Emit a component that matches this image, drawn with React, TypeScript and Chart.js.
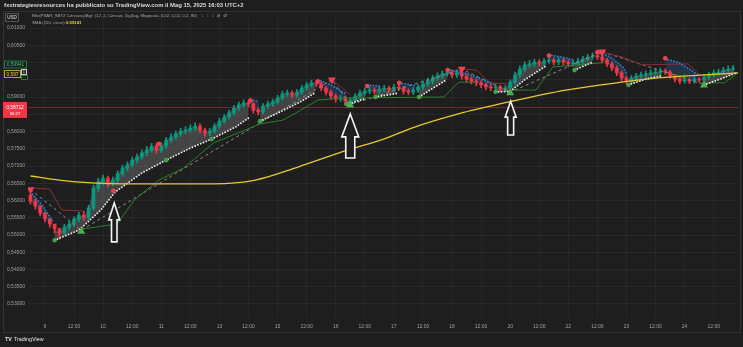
import React, { useEffect, useRef } from 'react';
import { Chart, registerables } from 'chart.js';
Chart.register(...registerables);

const BG = '#1e1e1e';
const GREEN = '#089981';
const RED = '#f23645';

// ---------- candles (one bar per slot; open = previous close) ----------
const firstOpen = 0.5616;
const closes = [
  0.5598,0.5584,0.5564,0.5547,0.5532,0.5518,0.5506,0.5523,0.5532,0.5546,
  0.5558,0.5552,0.5578,0.5636,0.5654,0.5665,0.5651,0.5659,0.5677,0.5694,
  0.5703,0.5717,0.5726,0.5738,0.5746,0.5758,0.5746,0.5758,0.5775,0.5784,
  0.5793,0.5801,0.5804,0.5810,0.5816,0.5804,0.5796,0.5801,0.5816,0.5830,
  0.5842,0.5854,0.5868,0.5877,0.5883,0.5880,0.5862,0.5857,0.5874,0.5880,
  0.5886,0.5897,0.5909,0.5912,0.5906,0.5914,0.5926,0.5935,0.5941,0.5938,
  0.5926,0.5914,0.5903,0.5894,0.5897,0.5888,0.5891,0.5903,0.5912,0.5917,
  0.5920,0.5917,0.5923,0.5926,0.5923,0.5929,0.5926,0.5917,0.5914,0.5920,
  0.5929,0.5938,0.5946,0.5955,0.5961,0.5967,0.5970,0.5964,0.5970,0.5961,
  0.5952,0.5946,0.5941,0.5935,0.5929,0.5926,0.5929,0.5923,0.5926,0.5943,
  0.5964,0.5981,0.5993,0.5996,0.6001,0.5999,0.6004,0.6007,0.6001,0.6007,
  0.6001,0.5996,0.5999,0.6004,0.6010,0.6016,0.6019,0.6016,0.6007,0.5996,
  0.5984,0.5970,0.5955,0.5946,0.5955,0.5961,0.5964,0.5967,0.5970,0.5972,
  0.5975,0.5972,0.5961,0.5952,0.5946,0.5949,0.5946,0.5952,0.5949,0.5958,
  0.5964,0.5970,0.5972,0.5978,0.5981,0.5984,
];
const highs = [
  0.5620,0.5605,0.5585,0.5565,0.5545,0.5528,0.5520,0.5531,0.5540,0.5553,
  0.5566,0.5569,0.5586,0.5645,0.5665,0.5674,0.5671,0.5668,0.5686,0.5703,
  0.5712,0.5726,0.5735,0.5747,0.5757,0.5766,0.5765,0.5767,0.5783,0.5793,
  0.5802,0.5810,0.5814,0.5819,0.5825,0.5822,0.5810,0.5809,0.5823,0.5838,
  0.5850,0.5862,0.5876,0.5885,0.5892,0.5890,0.5884,0.5868,0.5881,0.5888,
  0.5894,0.5905,0.5917,0.5920,0.5918,0.5922,0.5934,0.5943,0.5949,0.5947,
  0.5944,0.5931,0.5920,0.5909,0.5905,0.5903,0.5899,0.5910,0.5920,0.5926,
  0.5928,0.5927,0.5930,0.5934,0.5932,0.5937,0.5937,0.5931,0.5924,0.5927,
  0.5936,0.5946,0.5955,0.5963,0.5970,0.5976,0.5979,0.5977,0.5979,0.5976,
  0.5967,0.5958,0.5953,0.5947,0.5941,0.5936,0.5936,0.5934,0.5933,0.5950,
  0.5972,0.5990,0.6002,0.6006,0.6010,0.6008,0.6012,0.6016,0.6013,0.6014,
  0.6012,0.6007,0.6006,0.6012,0.6018,0.6024,0.6028,0.6025,0.6022,0.6012,
  0.6001,0.5990,0.5975,0.5961,0.5962,0.5968,0.5972,0.5976,0.5979,0.5981,
  0.5984,0.5982,0.5977,0.5966,0.5958,0.5956,0.5955,0.5959,0.5957,0.5965,
  0.5972,0.5978,0.5981,0.5986,0.5990,0.5992,
];
const lows = [
  0.5590,0.5575,0.5555,0.5538,0.5522,0.5505,0.5488,0.5500,0.5515,0.5525,
  0.5538,0.5542,0.5545,0.5572,0.5626,0.5645,0.5640,0.5643,0.5652,0.5670,
  0.5686,0.5697,0.5709,0.5720,0.5730,0.5740,0.5737,0.5739,0.5750,0.5768,
  0.5777,0.5786,0.5794,0.5797,0.5802,0.5796,0.5786,0.5788,0.5795,0.5810,
  0.5824,0.5836,0.5848,0.5861,0.5870,0.5872,0.5853,0.5848,0.5851,0.5867,
  0.5873,0.5880,0.5891,0.5902,0.5899,0.5899,0.5908,0.5919,0.5929,0.5930,
  0.5918,0.5906,0.5894,0.5885,0.5887,0.5880,0.5881,0.5885,0.5897,0.5905,
  0.5910,0.5909,0.5910,0.5916,0.5915,0.5916,0.5918,0.5908,0.5906,0.5907,
  0.5913,0.5922,0.5931,0.5939,0.5948,0.5954,0.5960,0.5956,0.5957,0.5952,
  0.5944,0.5938,0.5933,0.5927,0.5921,0.5918,0.5919,0.5915,0.5916,0.5920,
  0.5937,0.5957,0.5974,0.5986,0.5989,0.5991,0.5992,0.5997,0.5993,0.5994,
  0.5994,0.5988,0.5989,0.5993,0.5998,0.6004,0.6010,0.6008,0.5999,0.5988,
  0.5976,0.5962,0.5946,0.5937,0.5940,0.5949,0.5954,0.5957,0.5960,0.5963,
  0.5966,0.5965,0.5954,0.5944,0.5938,0.5940,0.5939,0.5940,0.5942,0.5943,
  0.5952,0.5958,0.5963,0.5966,0.5972,0.5975,
];

// ---------- axes ----------
const xTickIdx = [3,9,15,21,27,33,39,45,51,57,63,69,75,81,87,93,99,105,111,117,123,129,135,141];
const xTickLabels = ['9','12:00','10','12:00','11','12:00','13','12:00','15','12:00','16','12:00','17','12:00','18','12:00','20','12:00','22','12:00','23','12:00','24','12:00'];
const yTicks = [0.53,0.535,0.54,0.545,0.55,0.555,0.56,0.565,0.57,0.575,0.58,0.585,0.59,0.595,0.6,0.605,0.61];
const yTicksHidden = [0.585,0.595,0.6];

// ---------- indicators: [barIndex, price] ----------
const sma = [[0,0.5671],[6,0.5659],[12.6,0.5651],[24.5,0.5648],[37.8,0.5648],[46.4,0.5659],[55.2,0.5697],[65.4,0.5746],[72.9,0.5778],[78.7,0.5810],[88.3,0.5851],[98.8,0.5886],[110.5,0.5920],[122.1,0.5943],[128.9,0.5955],[139.1,0.5964],[146,0.5970]];
const psarUp = [
  [[5,0.5485],[10,0.5514],[14.5,0.5572],[17.5,0.5625],[19.5,0.5645],[23,0.5680],[28,0.5717],[33,0.5752],[37.4,0.5778],[42.3,0.5813],[45,0.5839]],
  [[47.4,0.5830],[52,0.5860],[56,0.5888],[58.7,0.5912]],
  [[65.2,0.5878],[69,0.5895]],
  [[71.2,0.5900],[75.5,0.5910]],
  [[80.2,0.5900],[83,0.5925],[85.9,0.5950]],
  [[96,0.5915],[99,0.5916],[102,0.5950],[106.4,0.5990]],
  [[112.3,0.5978],[116,0.6001]],
  [[123.4,0.5935],[127,0.5952],[130.3,0.5962]],
  [[139,0.5935],[142,0.5950],[145.6,0.5970]],
];
const psarDown = [
  [[0,0.5625],[2.5,0.5585],[4.6,0.5540]],
  [[45.4,0.5893],[47.2,0.5887]],
  [[59.3,0.5950],[62,0.5935],[65.3,0.5908]],
  [[69.5,0.5934],[72,0.5932]],
  [[76.1,0.5941],[79.5,0.5933]],
  [[86.1,0.5980],[90,0.5968],[93,0.5952],[95.5,0.5938]],
  [[107,0.6022],[110,0.6015],[112,0.6008]],
  [[117,0.6030],[119.7,0.6016],[122.2,0.5987],[123.2,0.5965]],
  [[131,0.6010],[133.6,0.6001],[135.7,0.5984],[137.7,0.5964]],
];
const stopUp = [
  [[10.6,0.5517],[17.9,0.5532],[21.4,0.5601],[26.5,0.5659],[31.6,0.5694],[37.8,0.5767],[42.9,0.5796],[47.4,0.5822],[52.1,0.5833],[55.2,0.5857],[59.3,0.5891],[64.4,0.5897],[85.3,0.5900],[88.4,0.5943],[92,0.5943]],
  [[98.8,0.5920],[104.3,0.5920],[107.8,0.5987],[112.5,0.5993],[118,0.5999]],
  [[138.5,0.5941],[143.2,0.5941],[146,0.5970]],
];
const stopDown = [
  [[0.3,0.5636],[4,0.5633],[6.5,0.5572],[10.6,0.5570]],
  [[62.2,0.5949],[64.4,0.5926],[66,0.5906]],
  [[89,0.5981],[92.1,0.5978],[94.7,0.5941],[98.4,0.5938]],
  [[118,0.6030],[122.1,0.6016],[126.2,0.5993],[135.7,0.5996],[137.7,0.5970],[139,0.5958]],
];
const zigzag = [[0,0.5632],[10.5,0.5514],[62.2,0.5950],[66,0.5878],[89,0.5981],[99,0.5914],[118,0.6031],[139,0.5936],[146,0.5972]];
const redDots = [[17.1,0.5628],[26.5,0.5764],[45.4,0.5890],[59.3,0.5945],[69.5,0.5932],[76.1,0.5941],[86.1,0.5978],[107,0.6020],[117,0.6030],[131,0.6012]];
const greenDots = [[5,0.5485],[28,0.5717],[37.4,0.5778],[47.4,0.5830],[65.2,0.5880],[71.2,0.5900],[80.2,0.5900],[96,0.5915],[112.3,0.5978],[123.4,0.5935]];
const sellTriangles = [[0,0.5632],[62.2,0.5950],[89,0.5981],[118,0.6031]];
const buyTriangles = [[10.5,0.5510],[66,0.5876],[99,0.5912],[139,0.5934]];

// ---------- annotations ----------
const arrowIdx = [17.3, 66.0, 99.1];
const arrowTip = [0.5593, 0.5851, 0.5888];
const arrowBase = [0.5480, 0.5723, 0.5790];
const lastPrice = 0.58712;
const lastCountdown = '56:27';
const smaLast = 0.59667;
const signalLevel = 0.59941;
const smaLegendValue = '0,59141';

const fmt = (v: number, d = 5) => v.toFixed(d).replace('.', ',');
const pts = (a: number[][]) => a.map(p => ({ x: p[0], y: p[1] }));
const segPts = (segs: number[][][]) => {
  const out: any[] = [];
  segs.forEach((seg, k) => {
    if (k > 0) {
      const prev = segs[k - 1][segs[k - 1].length - 1];
      out.push({ x: (prev[0] + seg[0][0]) / 2, y: null });
    }
    seg.forEach(p => out.push({ x: p[0], y: p[1] }));
  });
  return out;
};

const decor = {
  id: 'decor',
  beforeDraw(chart: any) {
    const { ctx, width, height } = chart;
    ctx.save();
    ctx.fillStyle = BG;
    ctx.fillRect(0, 0, width, height);
    ctx.strokeStyle = '#333333';
    ctx.lineWidth = 1;
    ctx.strokeRect(3.5, 11.5, 737, 321);
    ctx.restore();
  },
  beforeDatasetsDraw(chart: any) {
    const { ctx, chartArea } = chart;
    const y = Math.round(chart.scales.y.getPixelForValue(lastPrice)) + 0.5;
    ctx.save();
    ctx.strokeStyle = '#6a2a30';
    ctx.lineWidth = 1;
    ctx.beginPath();
    ctx.moveTo(chartArea.left, y);
    ctx.lineTo(chartArea.right, y);
    ctx.stroke();
    ctx.restore();
  },
  afterDatasetsDraw(chart: any) {
    const { ctx } = chart;
    const xs = chart.scales.x, ys = chart.scales.y;
    const headW = [11, 17, 11], shaftW = [5.5, 9, 6], headH = [17, 23, 16];
    ctx.save();
    arrowIdx.forEach((ix, k) => {
      const x = xs.getPixelForValue(ix);
      const yt = ys.getPixelForValue(arrowTip[k]);
      const yb = ys.getPixelForValue(arrowBase[k]);
      const hw = headW[k] / 2, sw = shaftW[k] / 2, hh = headH[k];
      ctx.beginPath();
      ctx.moveTo(x, yt);
      ctx.lineTo(x + hw, yt + hh);
      ctx.lineTo(x + sw, yt + hh);
      ctx.lineTo(x + sw, yb);
      ctx.lineTo(x - sw, yb);
      ctx.lineTo(x - sw, yt + hh);
      ctx.lineTo(x - hw, yt + hh);
      ctx.closePath();
      ctx.fillStyle = BG;
      ctx.fill();
      ctx.strokeStyle = '#f5f5f5';
      ctx.lineWidth = 1.6;
      ctx.stroke();
    });
    ctx.restore();
  },
  afterDraw(chart: any) {
    const { ctx } = chart;
    const ys = chart.scales.y;
    ctx.save();
    ctx.textBaseline = 'middle';
    ctx.textAlign = 'center';
    // USD box
    ctx.fillStyle = BG;
    ctx.fillRect(5, 13, 14, 9);
    ctx.strokeStyle = '#555555';
    ctx.strokeRect(5.5, 13.5, 13, 8);
    ctx.fillStyle = '#e0e0e0';
    ctx.font = '4.6px "Liberation Sans"';
    ctx.fillText('USD', 12, 17.8);
    // signal level (green)
    let y = ys.getPixelForValue(signalLevel);
    ctx.fillStyle = BG;
    ctx.fillRect(4, y - 4, 23, 8);
    ctx.strokeStyle = '#1f7a46';
    ctx.strokeRect(4.5, y - 3.5, 22, 7);
    ctx.fillStyle = '#3fbf72';
    ctx.font = '4.8px "Liberation Sans"';
    ctx.fillText(fmt(signalLevel), 15.5, y + 0.3);
    // SMA last (yellow)
    y = ys.getPixelForValue(smaLast);
    ctx.fillStyle = BG;
    ctx.fillRect(4, y - 4, 17, 8);
    ctx.strokeStyle = '#b9a52a';
    ctx.strokeRect(4.5, y - 3.5, 16, 7);
    ctx.fillStyle = '#e8d23c';
    ctx.fillText(fmt(smaLast, 3), 12.5, y + 0.3);
    ctx.fillStyle = BG;
    ctx.fillRect(21, y - 5, 6, 6);
    ctx.strokeStyle = '#d0d0d0';
    ctx.strokeRect(21.5, y - 4.5, 5, 5);
    ctx.fillStyle = '#e0e0e0';
    ctx.font = '4.2px "Liberation Sans"';
    ctx.fillText('1', 24, y - 1.8);
    ctx.strokeStyle = '#1f7a46';
    ctx.strokeRect(21.5, y + 1.5, 6, 4);
    // last price (red)
    y = ys.getPixelForValue(lastPrice);
    ctx.fillStyle = RED;
    ctx.fillRect(3, y - 5, 24, 16);
    ctx.fillStyle = '#ffffff';
    ctx.font = '4.9px "Liberation Sans"';
    ctx.fillText(fmt(lastPrice), 15, y + 0.3);
    ctx.font = '4.2px "Liberation Sans"';
    ctx.fillText(lastCountdown, 15, y + 6.5);
    ctx.restore();
  },
};

export default function App() {
  const ref = useRef<HTMLCanvasElement>(null);
  useEffect(() => {
    const opens = closes.map((c, i) => (i === 0 ? firstOpen : closes[i - 1]));
    const colors = closes.map((c, i) => (c >= opens[i] ? GREEN : RED));
    const bodies = closes.map((c, i) => ({ x: i, y: [opens[i], c] }));
    const wicks = closes.map((c, i) => ({ x: i, y: [lows[i], highs[i]] }));
    const closeLine = closes.map((c, i) => ({ x: i, y: c }));
    const CLOSE_IDX = 0;
    const datasets: any[] = [
      { type: 'line', data: closeLine, borderColor: 'rgba(0,0,0,0)', borderWidth: 0, pointRadius: 0, fill: false, order: 50 },
      { type: 'bar', data: wicks, backgroundColor: colors, barThickness: 1, grouped: false, order: 41 },
      { type: 'bar', data: bodies, backgroundColor: colors, barThickness: 3, grouped: false, order: 40 },
      { type: 'line', data: pts(zigzag), borderColor: '#8c8c8c', borderWidth: 1, borderDash: [3, 3], pointRadius: 0, order: 30 },
      { type: 'line', data: segPts(stopUp), borderColor: '#2f7d32', borderWidth: 1, pointRadius: 0, spanGaps: false, order: 29 },
      { type: 'line', data: segPts(stopDown), borderColor: '#8c2f33', borderWidth: 1, pointRadius: 0, spanGaps: false, order: 29 },
      { type: 'line', data: segPts(psarUp), borderColor: '#e6e6e6', borderWidth: 1.9, borderDash: [0.01, 3], borderCapStyle: 'round', pointRadius: 0, spanGaps: false,
        fill: { target: CLOSE_IDX, above: 'rgba(150,150,150,0.32)', below: 'rgba(150,150,150,0.32)' }, order: 20 },
      { type: 'line', data: segPts(psarDown), borderColor: '#2f7fcf', borderWidth: 1.9, borderDash: [0.01, 3], borderCapStyle: 'round', pointRadius: 0, spanGaps: false,
        fill: { target: CLOSE_IDX, above: 'rgba(40,85,130,0.42)', below: 'rgba(40,85,130,0.42)' }, order: 20 },
      { type: 'line', data: pts(sma), borderColor: '#e8c92e', borderWidth: 1.3, pointRadius: 0, cubicInterpolationMode: 'monotone', order: 10 },
      { type: 'line', data: pts(redDots), showLine: false, pointRadius: 2.3, pointBackgroundColor: '#f0414f', pointBorderWidth: 0, order: 5 },
      { type: 'line', data: pts(greenDots), showLine: false, pointRadius: 2.3, pointBackgroundColor: '#43a047', pointBorderWidth: 0, order: 5 },
      { type: 'line', data: pts(sellTriangles), showLine: false, pointStyle: 'triangle', pointRotation: 180, pointRadius: 4.6, pointBackgroundColor: '#f0414f', pointBorderWidth: 0, order: 4 },
      { type: 'line', data: pts(buyTriangles), showLine: false, pointStyle: 'triangle', pointRadius: 4.6, pointBackgroundColor: '#4caf50', pointBorderWidth: 0, order: 4 },
    ];
    Chart.defaults.font.family = '"Liberation Sans", Arial, sans-serif';
    const chart = new Chart(ref.current as HTMLCanvasElement, {
      type: 'bar',
      data: { datasets },
      plugins: [decor],
      options: {
        responsive: false,
        devicePixelRatio: 1,
        animation: false,
        events: [],
        layout: { padding: { left: 3, right: 2, top: 13, bottom: 14 } },
        plugins: {
          legend: { display: false },
          tooltip: { enabled: false },
          filler: { drawTime: 'beforeDatasetsDraw', propagate: true },
        },
        scales: {
          x: {
            type: 'linear',
            min: -0.5,
            max: 146.1,
            offset: false,
            afterFit: (s: any) => { s.height = 15; },
            afterBuildTicks: (s: any) => { s.ticks = xTickIdx.map(v => ({ value: v })); },
            grid: { color: '#262626', lineWidth: 1, drawTicks: false, offset: false },
            border: { display: false },
            ticks: {
              autoSkip: false,
              maxRotation: 0,
              padding: 6,
              color: '#a0a0a0',
              font: { size: 5 },
              callback: (v: any) => { const k = xTickIdx.indexOf(v); return k >= 0 ? xTickLabels[k] : ''; },
            },
          },
          y: {
            type: 'linear',
            position: 'left',
            min: 0.525942,
            max: 0.614348,
            beginAtZero: false,
            afterFit: (s: any) => { s.width = 25; },
            afterBuildTicks: (s: any) => { s.ticks = yTicks.map(v => ({ value: v })); },
            grid: { color: '#292929', lineWidth: 1, drawTicks: false },
            border: { display: false },
            ticks: {
              padding: 3,
              color: '#a0a0a0',
              font: { size: 5 },
              callback: (v: any) => (yTicksHidden.some(h => Math.abs(h - v) < 1e-6) ? '' : fmt(v)),
            },
          },
        },
      } as any,
    } as any);
    return () => chart.destroy();
  }, []);

  return (
    <div style={{ position: 'fixed', left: 0, top: 0, width: 743, height: 347, background: BG, overflow: 'hidden', fontFamily: '"Liberation Sans", Arial, sans-serif' }}>
      <canvas ref={ref} width={743} height={347} style={{ position: 'absolute', left: 0, top: 0, width: 743, height: 347 }} />
      <div style={{ position: 'absolute', left: 4, top: 1.5, fontSize: 5.9, fontWeight: 'bold', color: '#dcdcdc', whiteSpace: 'nowrap', lineHeight: '7px' }}>
        fxstrategiesresources ha pubblicato su TradingView.com il Mag 15, 2025 16:03 UTC+2
      </div>
      <div style={{ position: 'absolute', left: 32, top: 13, fontSize: 4.3, color: '#a8a8a8', whiteSpace: 'nowrap', lineHeight: '6px' }}>
        Bitc(PSAR_SBTZ Сигналы)Bgt: (12, 2, Сигнал, ZigZag, Медиана, 0,02, 0,02, 0,2, 90)
        <span style={{ color: '#f23645', marginLeft: 4 }}>1</span>
        <span style={{ color: '#555', marginLeft: 3 }}>1</span>
        <span style={{ color: '#2f7fcf', marginLeft: 3 }}>1</span>
        <span style={{ color: '#a8a8a8', marginLeft: 3 }}>Ø</span>
        <span style={{ color: '#a8a8a8', marginLeft: 3 }}>Ø</span>
      </div>
      <div style={{ position: 'absolute', left: 32, top: 20, fontSize: 4.3, color: '#a8a8a8', whiteSpace: 'nowrap', lineHeight: '6px' }}>
        SMA (150, close) <span style={{ color: '#e8d23c', fontWeight: 'bold' }}>{smaLegendValue}</span>
      </div>
      <div style={{ position: 'absolute', left: 5, top: 336, fontSize: 5.4, color: '#e6e6e6', whiteSpace: 'nowrap', lineHeight: '7px' }}>
        <span style={{ fontWeight: 'bold', marginRight: 2 }}>TV</span>TradingView
      </div>
    </div>
  );
}
